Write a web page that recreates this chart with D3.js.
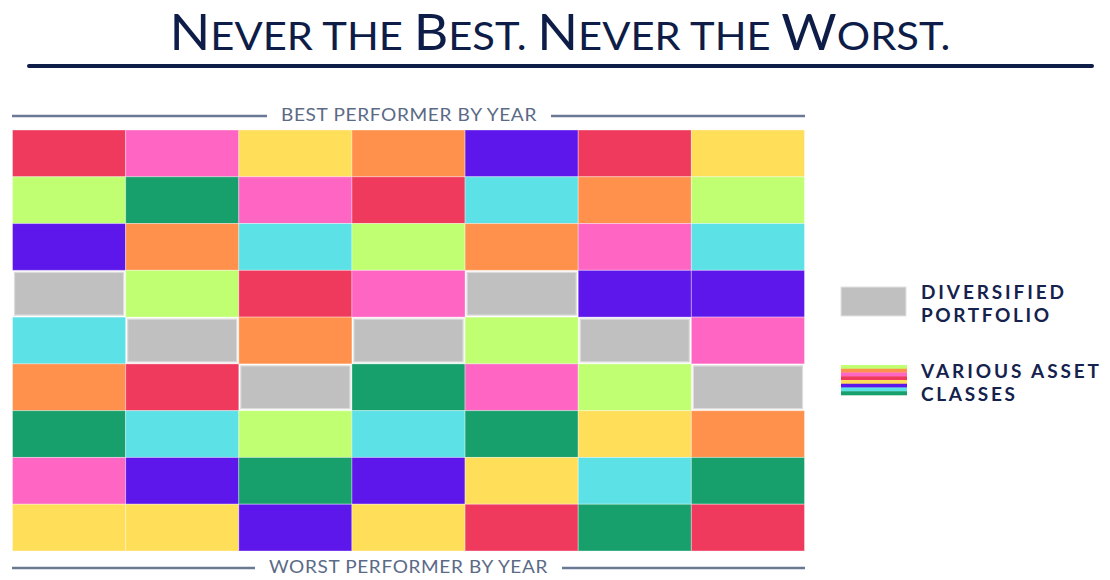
<!DOCTYPE html>
<!-- Rank grid: asset classes ordered best to worst for each year. -->
<meta charset="utf-8">
<style>
 body { margin: 0; background: #fff; }
 .title { font-family: Lato, sans-serif; font-weight: 400; fill: #0e1c48; }
 .band text { font-family: Lato, sans-serif; font-size: 18px; fill: #5b6a86; letter-spacing: 0.6px; }
 .band line { stroke: #6b7893; stroke-width: 2.5px; }
 .legend text { font-family: Lato, sans-serif; font-weight: 700; font-size: 19px; fill: #14224d; }
</style>

<svg class="chart"></svg>

<script src="https://cdn.jsdelivr.net/npm/d3@7"></script>

<script>

 var years = ["Y1", "Y2", "Y3", "Y4", "Y5", "Y6", "Y7"];
 var ranks = [1, 2, 3, 4, 5, 6, 7, 8, 9];

 var assets = ["Red", "Pink", "Yellow", "Orange", "Purple", "Cyan", "Lime", "Green", "Diversified"];
 var assetColors = ["#ef3a5d", "#ff66c4", "#ffde59", "#ff914d", "#5e17eb", "#5ce1e6", "#c1ff72", "#17a06b", "#c0c0c0"];

 // order from best (top) to worst (bottom), one list per year
 var y1 = ["Red", "Lime", "Purple", "Diversified", "Cyan", "Orange", "Green", "Pink", "Yellow"];
 var y2 = ["Pink", "Green", "Orange", "Lime", "Diversified", "Red", "Cyan", "Purple", "Yellow"];
 var y3 = ["Yellow", "Pink", "Cyan", "Red", "Orange", "Diversified", "Lime", "Green", "Purple"];
 var y4 = ["Orange", "Red", "Lime", "Pink", "Diversified", "Green", "Cyan", "Purple", "Yellow"];
 var y5 = ["Purple", "Cyan", "Orange", "Diversified", "Lime", "Pink", "Green", "Yellow", "Red"];
 var y6 = ["Red", "Orange", "Pink", "Purple", "Diversified", "Lime", "Yellow", "Cyan", "Green"];
 var y7 = ["Yellow", "Lime", "Cyan", "Purple", "Pink", "Diversified", "Orange", "Green", "Red"];
 var orders = [y1, y2, y3, y4, y5, y6, y7];

 var stripeAssets = ["Lime", "Orange", "Pink", "Red", "Yellow", "Purple", "Cyan", "Green"];

 var width = 1110, height = 580;
 var svg = d3.select(".chart").attr("width", width).attr("height", height);

 var color = d3.scaleOrdinal().domain(assets).range(assetColors);
 var x = d3.scaleBand().domain(years).range([12.5, 804.5]);
 var y = d3.scaleBand().domain(ranks).range([130, 551]);

 // title, small caps built by hand
 var title = svg.append("text").attr("class", "title")
     .attr("x", 560).attr("y", 50).attr("text-anchor", "middle");
 "Never the Best. Never the Worst.".split("").forEach(function(ch) {
     var big = ch !== ch.toLowerCase();
     title.append("tspan").attr("font-size", big ? 50 : 39).text(ch.toUpperCase());
 });
 title.attr("textLength", 781).attr("lengthAdjust", "spacingAndGlyphs");

 svg.append("line").attr("x1", 29).attr("x2", 1092).attr("y1", 66).attr("y2", 66)
    .attr("stroke", "#0e1c48").attr("stroke-width", 4).attr("stroke-linecap", "round");

 // best / worst headers
 function band(label, ty, ly, tx0, tx1) {
     var g = svg.append("g").attr("class", "band");
     g.append("line").attr("x1", 12).attr("x2", tx0 - 14).attr("y1", ly).attr("y2", ly);
     g.append("line").attr("x1", tx1 + 14).attr("x2", 805).attr("y1", ly).attr("y2", ly);
     g.append("text").attr("x", tx0).attr("y", ty)
      .attr("textLength", tx1 - tx0).attr("lengthAdjust", "spacingAndGlyphs").text(label);
 }
 band("BEST PERFORMER BY YEAR", 121, 116, 281, 537);
 band("WORST PERFORMER BY YEAR", 573, 568, 269, 548);

 // cells
 var cells = [];
 orders.forEach(function(order, i) {
     order.forEach(function(a, r) {
         cells.push({year: years[i], rank: ranks[r], asset: a});
     });
 });

 var cell = svg.append("g").selectAll("g").data(cells).enter().append("g")
     .attr("transform", function(d) { return "translate(" + x(d.year) + "," + y(d.rank) + ")"; });

 cell.filter(function(d) { return d.asset != "Diversified"; })
     .append("rect")
     .attr("width", x.bandwidth()).attr("height", y.bandwidth())
     .attr("fill", function(d) { return color(d.asset); })
     .attr("stroke", "rgba(255,255,255,0.35)").attr("stroke-width", 1);

 cell.filter(function(d) { return d.asset == "Diversified"; })
     .append("rect")
     .attr("x", 2).attr("y", 2)
     .attr("width", x.bandwidth() - 4).attr("height", y.bandwidth() - 4)
     .attr("fill", color("Diversified"))
     .attr("stroke", "#dcdcdc").attr("stroke-width", 1.2);

 // legend, letter-spaced labels on two lines
 var legend = svg.append("g").attr("class", "legend");
 function label(s, ty, w) {
     legend.append("text").attr("x", 921).attr("y", ty)
           .attr("textLength", w).attr("lengthAdjust", "spacing").text(s);
 }

 legend.append("rect").attr("x", 841).attr("y", 287).attr("width", 65).attr("height", 29)
       .attr("fill", color("Diversified")).attr("stroke", "#e2e2e2");
 label("DIVERSIFIED", 299, 143);
 label("PORTFOLIO", 322, 128);

 var sy = d3.scaleBand().domain(stripeAssets).range([365, 395]);
 legend.selectAll(".stripe").data(stripeAssets).enter().append("rect")
       .attr("x", 841).attr("width", 66)
       .attr("y", function(d) { return sy(d); }).attr("height", sy.bandwidth() + 0.3)
       .attr("fill", function(d) { return color(d); });
 label("VARIOUS ASSET", 378, 178);
 label("CLASSES", 401, 94);

</script>
